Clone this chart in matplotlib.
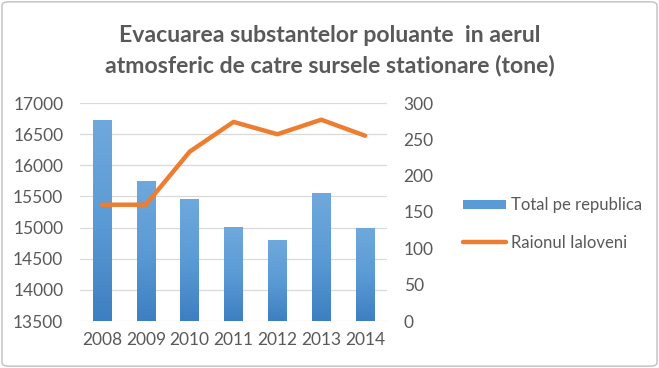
import numpy as np
import matplotlib.pyplot as plt
from matplotlib.patches import FancyBboxPatch
from matplotlib.colors import LinearSegmentedColormap

years = ['2008', '2009', '2010', '2011', '2012', '2013', '2014']
total_republica = [16730, 15750, 15460, 15005, 14800, 15550, 14990]
raionul_ialoveni = [160, 160, 233, 274, 257, 277, 255]

plt.rcParams['font.family'] = ['Lato', 'DejaVu Sans']
txt = '#595959'

fig = plt.figure(figsize=(6.59, 3.68), dpi=100)
ax = fig.add_axes([80/659, 1-321/368, 307/659, 218/368])
x = np.arange(len(years))

# bars with a vertical gradient like the original
grad = LinearSegmentedColormap.from_list('g', ['#3E7FC1', '#5B9BD5', '#6FA8DC'])
bars = ax.bar(x, total_republica, width=0.42, color='#5B9BD5', zorder=2,
              label='Total pe republica')
ax.set_ylim(13500, 17000)
ax.set_xlim(-0.5, len(years) - 0.5)
for b in bars:
    x0, w, h = b.get_x(), b.get_width(), b.get_height()
    im = ax.imshow(np.linspace(0, 1, 100).reshape(-1, 1), cmap=grad,
                   origin='lower', aspect='auto', zorder=2.1,
                   extent=(x0, x0 + w, 13500, h))
    im.set_clip_path(b)
ax.set_xlim(-0.5, len(years) - 0.5)
ax.set_ylim(13500, 17000)
ax.set_yticks(np.arange(13500, 17001, 500))
ax.set_xticks(x)
ax.set_xticklabels(years)
ax.grid(axis='y', color='#D9D9D9', linewidth=0.9, zorder=0)
for s in ax.spines.values():
    s.set_visible(False)
ax.tick_params(length=0, labelsize=12.5, colors=txt)
ax.tick_params(axis='y', pad=12)
ax.tick_params(axis='x', pad=8)

ax2 = ax.twinx()
ax2.plot(x, raionul_ialoveni, color='#ED7D31', linewidth=3.2,
         solid_capstyle='round', solid_joinstyle='round', zorder=3,
         label='Raionul Ialoveni')
ax2.set_ylim(0, 300)
ax2.set_yticks(np.arange(0, 301, 50))
for s in ax2.spines.values():
    s.set_visible(False)
ax2.tick_params(length=0, labelsize=12.5, colors=txt, pad=12)

fig.text(0.5, 1-35/368, 'Evacuarea substantelor poluante  in aerul',
         ha='center', va='center', fontsize=16.6, fontweight='bold', color=txt)
fig.text(0.5, 1-65/368, 'atmosferic de catre sursele stationare (tone)',
         ha='center', va='center', fontsize=16.6, fontweight='bold', color=txt)

h1, l1 = ax.get_legend_handles_labels()
h2, l2 = ax2.get_legend_handles_labels()
fig.legend(h1 + h2, l1 + l2, loc='center left',
           bbox_to_anchor=(448/659, 1-224/368), frameon=False,
           fontsize=12, labelcolor=txt, handlelength=2.6, handleheight=0.5,
           labelspacing=1.3, handletextpad=0.3)

border = FancyBboxPatch((0.003, 0.005), 0.994, 0.99,
                        boxstyle='round,pad=0,rounding_size=0.01',
                        transform=fig.transFigure, fill=False,
                        edgecolor='#BFBFBF', linewidth=1)
fig.patches.append(border)

fig.savefig('out.png', dpi=100)
